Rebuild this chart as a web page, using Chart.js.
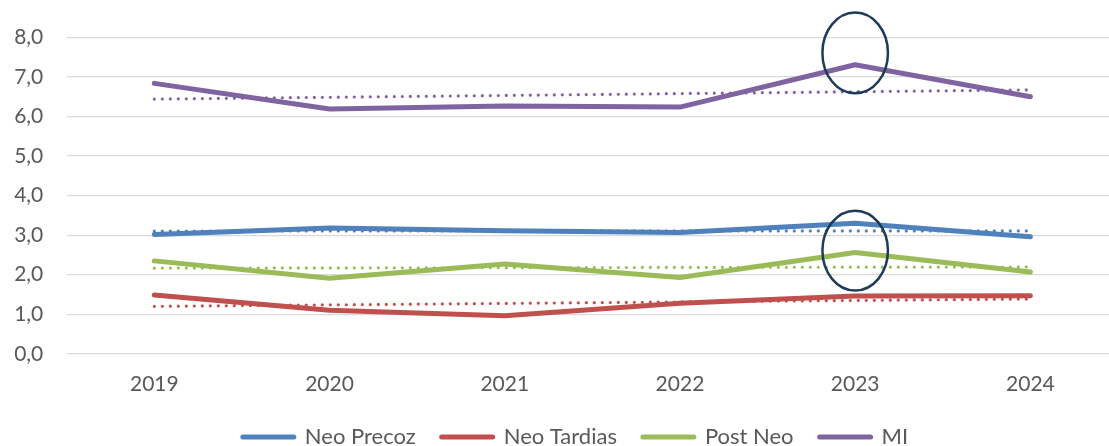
<!DOCTYPE html>
<html>
<head>
<meta charset="utf-8">
<script src="https://cdn.jsdelivr.net/npm/chart.js@4/dist/chart.umd.min.js"></script>
<style>
    html, body { margin: 0; padding: 0; background: #fff; }
    /* the plot runs a bit past the right edge in the original, so the canvas is larger than the window */
    .wrap { width: 1109px; height: 446px; overflow: hidden; position: relative; }
    .box { width: 1120px; height: 473px; position: absolute; left: 0; top: 0; }
</style>
</head>
<body>
<div class="wrap"><div class="box"><canvas id="chart"></canvas></div></div>
<script>
var years       = ['2019', '2020', '2021', '2022', '2023', '2024'];
var neoPrecoz   = [3.02, 3.18, 3.11, 3.07, 3.30, 2.96];
var neoTardias  = [1.49, 1.10, 0.96, 1.28, 1.46, 1.47];
var postNeo     = [2.35, 1.91, 2.27, 1.93, 2.56, 2.07];
var mi          = [6.84, 6.19, 6.27, 6.24, 7.31, 6.50];
var seriesNames = ['Neo Precoz', 'Neo Tardias', 'Post Neo', 'MI'];
var yTicks      = [0, 1, 2, 3, 4, 5, 6, 7, 8];

var C_BLUE = '#4f81bd', C_RED = '#c0504d', C_GREEN = '#9bbb59', C_PURPLE = '#8064a2';
var FONT = 'Lato, "Open Sans", sans-serif';

// linear trend line (least squares), same as the spreadsheet trendline
function linearTrend(vals) {
    var n = vals.length, sx = 0, sy = 0, sxy = 0, sxx = 0;
    vals.forEach(function (v, i) { sx += i; sy += v; sxy += i * v; sxx += i * i; });
    var b = (n * sxy - sx * sy) / (n * sxx - sx * sx);
    var a = (sy - b * sx) / n;
    return vals.map(function (_, i) { return a + b * i; });
}

function mainSet(label, data, color) {
    return {
        label: label, data: data, borderColor: color, backgroundColor: color,
        borderWidth: 5, borderCapStyle: 'round', borderJoinStyle: 'round',
        pointRadius: 0, tension: 0, order: 1
    };
}
function trendSet(data, color) {
    return {
        label: 'trend', isTrend: true, data: linearTrend(data), borderColor: color,
        borderWidth: 3.2, borderDash: [0, 8], borderCapStyle: 'round',
        pointRadius: 0, tension: 0, order: 0
    };
}

/* ── ellipses round the 2023 points ── */
var ellipsePlugin = {
    id: 'ellipses',
    afterDatasetsDraw: function (chart, args, opts) {
        var xs = chart.scales.x, ys = chart.scales.y, ctx = chart.ctx;
        var step = xs.getPixelForValue(1) - xs.getPixelForValue(0);
        opts.items.forEach(function (it) {
            var cx = xs.getPixelForValue(years.indexOf(it.year));
            var cy = ys.getPixelForValue(it.center);
            var ry = Math.abs(ys.getPixelForValue(it.center + it.halfHeight) - cy);
            ctx.save();
            ctx.beginPath();
            ctx.ellipse(cx, cy, step * it.halfWidth, ry, 0, 0, Math.PI * 2);
            ctx.lineWidth = 2.5;
            ctx.strokeStyle = '#1f3b5a';
            ctx.stroke();
            ctx.restore();
        });
    }
};

/* ── legend sits a little off the canvas centre in the original ── */
var legendNudge = {
    id: 'legendNudge',
    afterLayout: function (chart, args, opts) {
        var lg = chart.legend;
        if (!lg) return;
        lg.left += opts.dx; lg.right += opts.dx;
        lg.top += opts.dy; lg.bottom += opts.dy;
    }
};

new Chart(document.getElementById('chart'), {
    type: 'line',
    data: {
        labels: years,
        datasets: [
            trendSet(neoPrecoz, C_BLUE),
            trendSet(neoTardias, C_RED),
            trendSet(postNeo, C_GREEN),
            trendSet(mi, C_PURPLE),
            mainSet(seriesNames[0], neoPrecoz, C_BLUE),
            mainSet(seriesNames[1], neoTardias, C_RED),
            mainSet(seriesNames[2], postNeo, C_GREEN),
            mainSet(seriesNames[3], mi, C_PURPLE)
        ]
    },
    plugins: [ellipsePlugin, legendNudge],
    options: {
        responsive: true,
        maintainAspectRatio: false,
        animation: false,
        layout: { padding: { top: 37.5, left: 14, right: 2, bottom: 0 } },
        plugins: {
            tooltip: { enabled: false },
            legendNudge: { dx: 9.5, dy: -15 },
            ellipses: {
                items: [
                    { year: '2023', center: 7.61, halfHeight: 1.02, halfWidth: 0.187 },
                    { year: '2023', center: 2.61, halfHeight: 1.01, halfWidth: 0.187 }
                ]
            },
            legend: {
                position: 'bottom',
                labels: {
                    usePointStyle: true,
                    pointStyleWidth: 51,
                    boxHeight: 22,
                    padding: 26,
                    color: '#595959',
                    font: { family: FONT, size: 22 },
                    generateLabels: function (chart) {
                        return Chart.defaults.plugins.legend.labels.generateLabels(chart)
                            .filter(function (l) { return !chart.data.datasets[l.datasetIndex].isTrend; })
                            .map(function (l) {
                                l.pointStyle = 'line';
                                l.lineWidth = 5;
                                l.lineCap = 'round';
                                return l;
                            });
                    }
                }
            }
        },
        scales: {
            x: {
                offset: true,
                grid: { display: false, drawTicks: false },
                border: { display: false },
                ticks: { padding: 18, color: '#595959', font: { family: FONT, size: 21 } }
            },
            y: {
                min: 0, max: 8,
                afterBuildTicks: function (scale) {
                    scale.ticks = yTicks.map(function (v) { return { value: v }; });
                },
                afterFit: function (scale) { scale.width = 52.7; },
                grid: { color: '#d9d9d9', lineWidth: 1.3, drawTicks: false },
                border: { display: false },
                ticks: {
                    padding: 23.4, color: '#595959', font: { family: FONT, size: 21 },
                    callback: function (v) { return v.toFixed(1).replace('.', ','); }
                }
            }
        }
    }
});
</script>
</body>
</html>
